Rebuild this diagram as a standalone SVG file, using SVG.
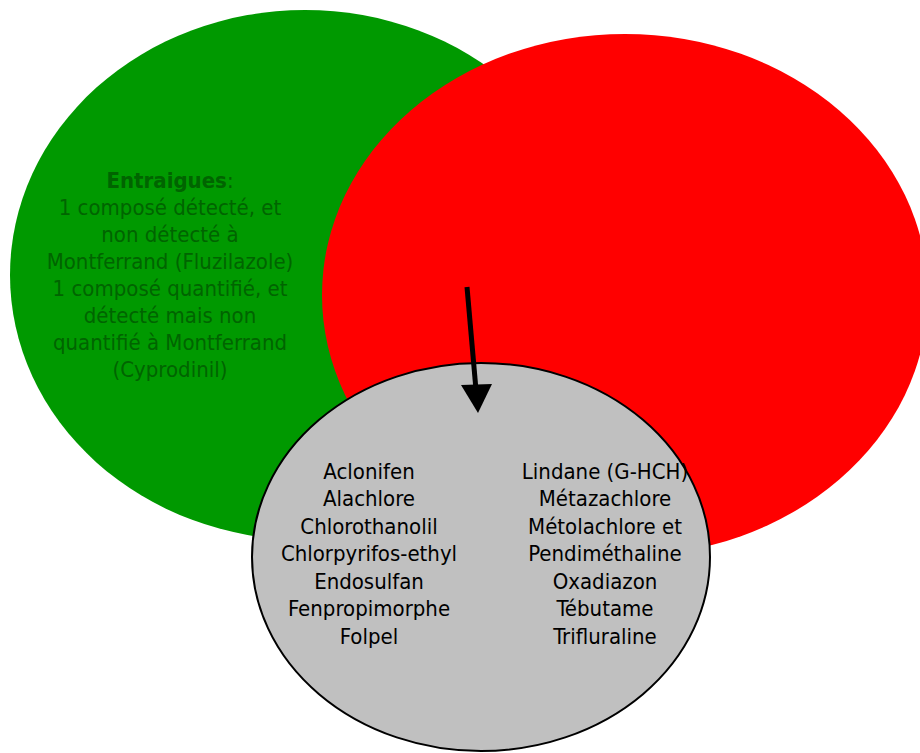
<svg xmlns="http://www.w3.org/2000/svg" width="920" height="753" viewBox="0 0 920 753">
<style>
.t{font-family:"DejaVu Sans Condensed","DejaVu Sans",Verdana,sans-serif;font-stretch:condensed;font-size:22px;text-anchor:middle}
.g{fill:#006400}
.k{fill:#000}
</style>
<g id="green">
<ellipse cx="305" cy="275" rx="295" ry="265" fill="#009900"/>
<text class="t g" x="170" y="188"><tspan font-weight="bold">Entraigues</tspan>:</text>
<text class="t g" x="170" y="215">1 composé détecté, et</text>
<text class="t g" x="170" y="242">non détecté à</text>
<text class="t g" x="170" y="269">Montferrand (Fluzilazole)</text>
<text class="t g" x="170" y="296">1 composé quantifié, et</text>
<text class="t g" x="170" y="323">détecté mais non</text>
<text class="t g" x="170" y="350">quantifié à Montferrand</text>
<text class="t g" x="170" y="377">(Cyprodinil)</text>
</g>
<g id="red">
<ellipse cx="625" cy="295" rx="303" ry="261" fill="#ff0000"/>
</g>
<g id="gray">
<ellipse cx="481" cy="557" rx="229" ry="194" fill="#c0c0c0" stroke="#000" stroke-width="2"/>
<text class="t k" x="369" y="479">Aclonifen</text>
<text class="t k" x="369" y="506">Alachlore</text>
<text class="t k" x="369" y="534">Chlorothanolil</text>
<text class="t k" x="369" y="561">Chlorpyrifos-ethyl</text>
<text class="t k" x="369" y="589">Endosulfan</text>
<text class="t k" x="369" y="616">Fenpropimorphe</text>
<text class="t k" x="369" y="644">Folpel</text>
<text class="t k" x="605" y="479">Lindane (G-HCH)</text>
<text class="t k" x="605" y="506">Métazachlore</text>
<text class="t k" x="605" y="534">Métolachlore et</text>
<text class="t k" x="605" y="561">Pendiméthaline</text>
<text class="t k" x="605" y="589">Oxadiazon</text>
<text class="t k" x="605" y="616">Tébutame</text>
<text class="t k" x="605" y="644">Trifluraline</text>
</g>
<g id="connectors">
<line x1="467" y1="287" x2="476" y2="390" stroke="#000" stroke-width="5"/>
<path d="M461,385 L492,384 L478,413 Z" fill="#000"/>
</g>
</svg>
